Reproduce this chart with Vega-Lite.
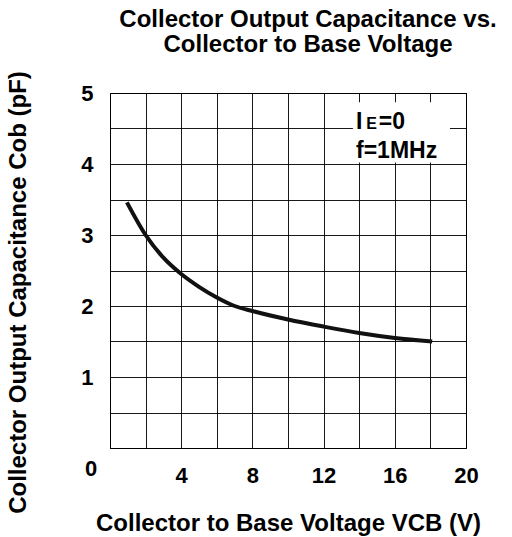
{
  "$schema": "https://vega.github.io/schema/vega-lite/v6.json",
  "autosize": {"type": "none"},
  "width": 356,
  "height": 355,
  "padding": {"left": 110, "top": 93, "right": 46, "bottom": 89},
  "background": "white",
  "config": {
    "view": {"stroke": "black", "strokeWidth": 1},
    "font": "Liberation Sans",
    "axis": {
      "grid": true,
      "gridColor": "black",
      "gridOpacity": 0.9,
      "gridWidth": 1,
      "ticks": false,
      "domain": false,
      "labelFont": "Liberation Sans",
      "labelFontWeight": "bold",
      "labelFontSize": 22,
      "labelColor": "black",
      "labelFlush": false,
      "labelOverlap": false,
      "titleFont": "Liberation Sans",
      "titleFontWeight": "bold",
      "titleFontSize": 24,
      "titleColor": "black"
    }
  },
  "title": {
    "text": ["Collector Output Capacitance vs.", "Collector to Base Voltage"],
    "font": "Liberation Sans",
    "fontWeight": "bold",
    "fontSize": 24,
    "lineHeight": 25,
    "color": "black",
    "anchor": "middle",
    "dx": 20,
    "offset": 14
  },
  "encoding": {
    "x": {
      "field": "x", "type": "quantitative",
      "scale": {"domain": [0, 20], "nice": false, "zero": false},
      "axis": {
        "values": [0, 2, 4, 6, 8, 10, 12, 14, 16, 18, 20],
        "labelExpr": "datum.value % 4 == 0 && datum.value > 0 ? '' + datum.value : ''",
        "labelPadding": 17,
        "title": "Collector to Base Voltage VCB (V)",
        "titleBaseline": "alphabetic",
        "titleY": 82
      }
    },
    "y": {
      "field": "y", "type": "quantitative",
      "scale": {"domain": [0, 5], "nice": false, "zero": false},
      "axis": {
        "values": [0, 0.5, 1, 1.5, 2, 2.5, 3, 3.5, 4, 4.5, 5],
        "labelExpr": "datum.value % 1 == 0 && datum.value > 0 ? '' + datum.value : ''",
        "labelPadding": 17,
        "title": "Collector Output Capacitance Cob (pF)",
        "titleX": -80,
        "titleY": 199,
        "titleBaseline": "bottom"
      }
    }
  },
  "layer": [
    {
      "data": {"values": [{"x": 13.65, "x2": 19.1, "y": 4.02, "y2": 4.87}]},
      "mark": {"type": "rect", "fill": "white", "stroke": null},
      "encoding": {
        "x2": {"field": "x2"},
        "y2": {"field": "y2"}
      }
    },
    {
      "data": {"values": [
        {"x": 0.95, "y": 3.46},
        {"x": 2.0, "y": 3.0},
        {"x": 3.0, "y": 2.68},
        {"x": 4.0, "y": 2.45},
        {"x": 5.0, "y": 2.27},
        {"x": 6.0, "y": 2.12},
        {"x": 7.0, "y": 2.0},
        {"x": 8.0, "y": 1.93},
        {"x": 10.0, "y": 1.81},
        {"x": 12.0, "y": 1.71},
        {"x": 14.0, "y": 1.62},
        {"x": 16.0, "y": 1.55},
        {"x": 18.1, "y": 1.5}
      ]},
      "mark": {"type": "line", "color": "#111111", "strokeWidth": 4, "interpolate": "monotone"}
    },
    {
      "data": {"values": [{"x": 0, "y": 0, "t": "0"}]},
      "mark": {"type": "text", "font": "Liberation Sans", "fontWeight": "bold", "fontSize": 22, "color": "black", "dx": -19, "dy": 21, "align": "center", "baseline": "middle"},
      "encoding": {"text": {"field": "t"}}
    },
    {
      "data": {"values": [
        {"x": 13.82, "y": 4.5, "t": "I"},
        {"x": 15.1, "y": 4.5, "t": "=0"},
        {"x": 13.82, "y": 4.08, "t": "f=1MHz"}
      ]},
      "mark": {"type": "text", "font": "Liberation Sans", "fontWeight": "bold", "fontSize": 23, "color": "black", "align": "left", "baseline": "alphabetic"},
      "encoding": {"text": {"field": "t"}}
    },
    {
      "data": {"values": [{"x": 14.4, "y": 4.5, "t": "E"}]},
      "mark": {"type": "text", "font": "Liberation Sans", "fontWeight": "bold", "fontSize": 16, "color": "black", "align": "left", "baseline": "alphabetic"},
      "encoding": {"text": {"field": "t"}}
    }
  ]
}
